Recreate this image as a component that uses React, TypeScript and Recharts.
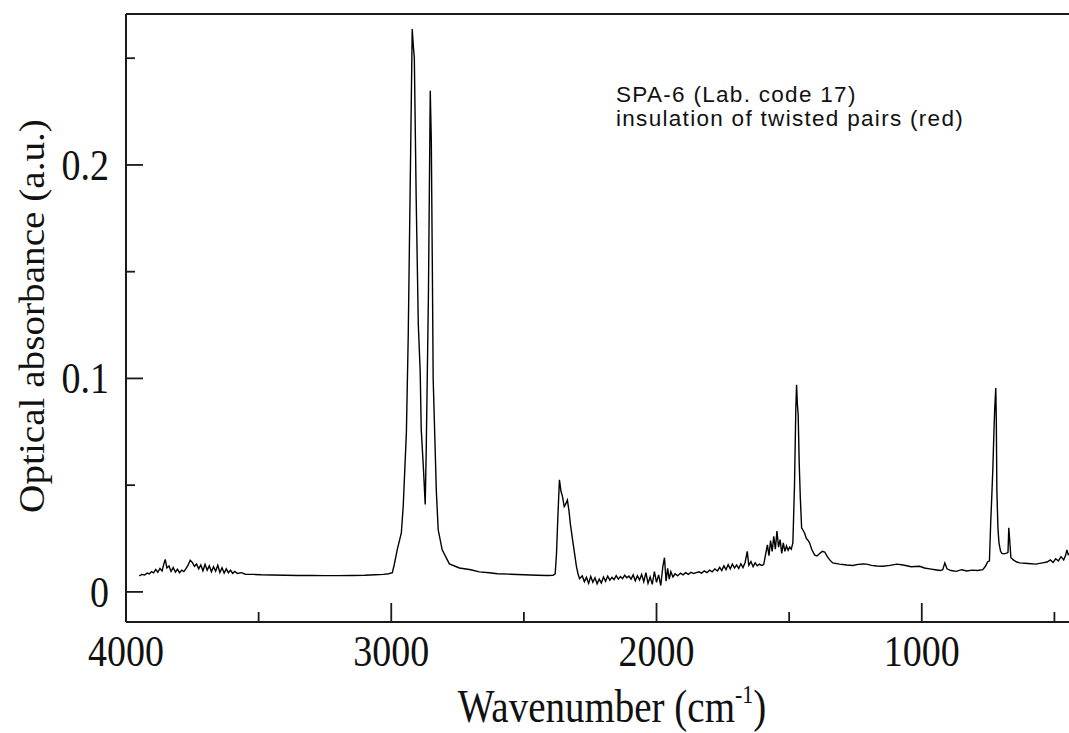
import { LineChart, Line, XAxis, YAxis } from "recharts";

// FTIR spectrum as [wavenumber cm-1, absorbance]
const highRegion: [number, number][] = [
  [3950, 0.0075], [3940, 0.0082], [3930, 0.0079], [3920, 0.0088], [3912, 0.0084],
  [3904, 0.0095], [3896, 0.0089], [3888, 0.0105], [3880, 0.0092], [3872, 0.011],
  [3864, 0.0098], [3858, 0.0128], [3852, 0.0152], [3846, 0.0112], [3838, 0.0121],
  [3830, 0.0096], [3822, 0.0114], [3814, 0.0093], [3806, 0.0106], [3798, 0.009],
  [3790, 0.0102], [3782, 0.0095], [3774, 0.0109], [3766, 0.0125], [3758, 0.0148],
  [3750, 0.0138], [3742, 0.012], [3734, 0.0131], [3726, 0.0108], [3718, 0.0126],
  [3710, 0.0099], [3702, 0.0129], [3694, 0.0102], [3686, 0.0122], [3678, 0.0094],
  [3670, 0.0118], [3662, 0.0097], [3654, 0.0125], [3646, 0.0091], [3638, 0.0113],
  [3630, 0.0088], [3622, 0.0108], [3614, 0.009], [3606, 0.0102], [3598, 0.0087],
  [3590, 0.0096], [3580, 0.0086], [3565, 0.009], [3550, 0.0083], [3520, 0.0082],
  [3490, 0.008], [3450, 0.0079], [3400, 0.0078], [3350, 0.0077], [3300, 0.0077],
  [3250, 0.0076], [3200, 0.0076], [3150, 0.0077], [3100, 0.0078], [3060, 0.008],
  [3030, 0.0082], [3010, 0.0085],
];

const chStretch: [number, number][] = [
  [2996, 0.009], [2989, 0.0126], [2977, 0.02], [2962, 0.0276], [2955, 0.04],
  [2943, 0.0745], [2936, 0.12], [2928, 0.196], [2921, 0.2637], [2917, 0.256],
  [2913, 0.25], [2906, 0.184], [2898, 0.125], [2891, 0.1035], [2887, 0.076],
  [2879, 0.0585], [2872, 0.041], [2868, 0.068], [2860, 0.138], [2853, 0.2347],
  [2849, 0.211], [2845, 0.15], [2842, 0.0998], [2830, 0.047], [2823, 0.029],
  [2808, 0.0197], [2781, 0.0131], [2743, 0.0112], [2700, 0.0104], [2668, 0.0094],
  [2630, 0.009], [2600, 0.0085], [2550, 0.0083], [2500, 0.008], [2450, 0.0078],
  [2410, 0.0077], [2390, 0.0078],
];

const co2Region: [number, number][] = [
  [2382, 0.0085], [2377, 0.018], [2372, 0.035], [2366, 0.0525], [2360, 0.047],
  [2355, 0.045], [2348, 0.04], [2343, 0.041], [2336, 0.043], [2330, 0.038],
  [2325, 0.032], [2316, 0.024], [2309, 0.018], [2302, 0.012], [2296, 0.0085],
  [2290, 0.0062], [2280, 0.0075], [2272, 0.0048], [2264, 0.0068], [2256, 0.004],
  [2248, 0.0072], [2240, 0.0045], [2232, 0.0066], [2224, 0.0038], [2216, 0.006],
  [2208, 0.0042], [2200, 0.007], [2192, 0.005], [2184, 0.0074], [2176, 0.0055],
  [2168, 0.0068], [2160, 0.0058], [2152, 0.0076], [2144, 0.006], [2136, 0.0072],
  [2128, 0.0062], [2120, 0.0078], [2112, 0.0066], [2104, 0.0074], [2096, 0.006],
  [2088, 0.008], [2080, 0.0052], [2072, 0.0076], [2064, 0.0056], [2056, 0.0082],
  [2048, 0.0048], [2040, 0.009], [2032, 0.004], [2024, 0.007], [2016, 0.0035],
  [2008, 0.0095], [2000, 0.0045], [1992, 0.008], [1984, 0.003], [1976, 0.012],
  [1970, 0.016], [1964, 0.005], [1958, 0.011], [1952, 0.006], [1946, 0.0095],
  [1938, 0.007], [1930, 0.0085], [1920, 0.0075], [1910, 0.0088], [1900, 0.008],
  [1890, 0.009], [1880, 0.0082], [1870, 0.0092], [1860, 0.0086], [1850, 0.009],
];

const fingerprint: [number, number][] = [
  [1840, 0.0094], [1830, 0.0088], [1820, 0.0098], [1810, 0.009], [1800, 0.0102],
  [1790, 0.0094], [1780, 0.0108], [1770, 0.0098], [1762, 0.0115], [1754, 0.01],
  [1746, 0.0122], [1738, 0.0104], [1730, 0.0128], [1722, 0.0108], [1714, 0.013],
  [1706, 0.0112], [1698, 0.0126], [1690, 0.011], [1682, 0.0132], [1674, 0.0114],
  [1666, 0.0138], [1658, 0.019], [1652, 0.0125], [1644, 0.0142], [1636, 0.0118],
  [1628, 0.0136], [1620, 0.0122], [1612, 0.013], [1604, 0.0124], [1596, 0.0128],
  [1588, 0.018], [1582, 0.022], [1576, 0.017], [1570, 0.024], [1564, 0.019],
  [1558, 0.026], [1552, 0.02], [1546, 0.0285], [1540, 0.021], [1534, 0.0245],
  [1528, 0.018], [1522, 0.023], [1516, 0.019], [1510, 0.0215], [1504, 0.0195],
  [1498, 0.021], [1492, 0.02], [1486, 0.023], [1480, 0.049], [1475, 0.085],
  [1472, 0.097], [1469, 0.088], [1466, 0.083], [1462, 0.06], [1458, 0.0445],
  [1453, 0.03], [1448, 0.029], [1442, 0.0276], [1435, 0.025], [1428, 0.024],
  [1423, 0.023], [1415, 0.02], [1404, 0.0173], [1395, 0.0168], [1385, 0.018],
  [1375, 0.019], [1366, 0.0187], [1356, 0.0165], [1347, 0.015], [1336, 0.0136],
  [1310, 0.013], [1283, 0.0126], [1260, 0.0124], [1240, 0.0129], [1220, 0.0131],
  [1208, 0.013], [1190, 0.0124], [1170, 0.0121], [1147, 0.012], [1120, 0.0124],
  [1094, 0.013], [1070, 0.0126], [1040, 0.0118], [1008, 0.012],
];

const lowRegion: [number, number][] = [
  [990, 0.0112], [970, 0.0108], [950, 0.0104], [930, 0.01], [921, 0.0104],
  [913, 0.0136], [905, 0.0108], [890, 0.01], [870, 0.0096], [850, 0.0104],
  [830, 0.0098], [810, 0.0102], [790, 0.01], [770, 0.0104], [760, 0.012],
  [752, 0.014], [745, 0.0145], [740, 0.033], [736, 0.045], [732, 0.058],
  [728, 0.075], [725, 0.086], [721, 0.0955], [719, 0.08], [717, 0.048],
  [713, 0.03], [709, 0.023], [703, 0.019], [698, 0.018], [690, 0.0178],
  [680, 0.0182], [675, 0.0185], [672, 0.03], [669, 0.025], [664, 0.016],
  [655, 0.015], [642, 0.014], [630, 0.0136], [600, 0.0133], [570, 0.013],
  [545, 0.0136], [528, 0.014], [515, 0.015], [505, 0.0138], [495, 0.0155],
  [485, 0.0145], [475, 0.0165], [465, 0.015], [458, 0.017], [453, 0.0197],
  [448, 0.0175], [445, 0.018],
];

const xTicks = [4000, 3500, 3000, 2500, 2000, 1500, 1000, 500];
const yTicks = [0, 0.05, 0.1, 0.15, 0.2, 0.25];
const noteLines = ["SPA-6 (Lab. code 17)", "insulation of twisted pairs (red)"];

const data = [...highRegion, ...chStretch, ...co2Region, ...fingerprint, ...lowRegion].map(
  ([w, a]) => ({ w, a })
);

const INK = "#1a1a1a";
const SERIF = "'Liberation Serif', 'Times New Roman', serif";

const BottomTick = (props: any) => {
  const { x, y, payload } = props;
  const major = payload.value % 1000 === 0;
  return (
    <g>
      <line x1={x} x2={x} y1={y} y2={y - (major ? 19 : 10)} stroke={INK} strokeWidth={1.8} />
      {major && (
        <g transform={`translate(${x} ${y + 44})`}>
          <text transform="scale(1,1.17)" textAnchor="middle" fontSize={38} fontFamily={SERIF} fill="#111">
            {payload.value}
          </text>
        </g>
      )}
    </g>
  );
};

const TopTick = (props: any) => {
  const { x, y, payload } = props;
  const major = payload.value % 1000 === 0;
  return <line x1={x} x2={x} y1={y} y2={y + (major ? 19 : 10)} stroke={INK} strokeWidth={1.8} />;
};

const LeftTick = (props: any) => {
  const { x, y, payload } = props;
  const v = payload.value;
  const major = Math.abs(v * 10 - Math.round(v * 10)) < 1e-6;
  return (
    <g>
      <line x1={x} x2={x + (major ? 17 : 9)} y1={y} y2={y} stroke={INK} strokeWidth={1.8} />
      {major && (
        <g transform={`translate(${x - 17} ${y + 15})`}>
          <text transform="scale(1,1.17)" textAnchor="end" fontSize={38} fontFamily={SERIF} fill="#111">
            {v === 0 ? "0" : v.toFixed(1)}
          </text>
        </g>
      )}
    </g>
  );
};

export default function App() {
  return (
    <div style={{ position: "absolute", left: 0, top: 0, background: "#fff" }}>
      <LineChart width={1069} height={733} data={data} margin={{ top: 0, right: 0, bottom: 0, left: 0 }}>
        <XAxis
          dataKey="w"
          type="number"
          domain={[445, 4000]}
          reversed
          allowDataOverflow
          ticks={xTicks}
          interval={0}
          height={111}
          tickSize={0}
          tickMargin={0}
          tickLine={false}
          tick={<BottomTick />}
          axisLine={{ stroke: INK, strokeWidth: 2 }}
        />
        <XAxis
          xAxisId="top"
          orientation="top"
          type="number"
          domain={[445, 4000]}
          reversed
          allowDataOverflow
          ticks={xTicks}
          interval={0}
          height={14}
          tickSize={0}
          tickMargin={0}
          tickLine={false}
          tick={<TopTick />}
          axisLine={{ stroke: INK, strokeWidth: 2 }}
        />
        <YAxis
          type="number"
          domain={[-0.0141, 0.2707]}
          allowDataOverflow
          ticks={yTicks}
          interval={0}
          width={126}
          tickSize={0}
          tickMargin={0}
          tickLine={false}
          tick={<LeftTick />}
          axisLine={{ stroke: INK, strokeWidth: 2 }}
        />
        <Line
          type="linear"
          dataKey="a"
          stroke="#000"
          strokeWidth={1.4}
          dot={false}
          isAnimationActive={false}
        />
        <g transform="translate(612 722)">
          <text transform="scale(1,1.17)" textAnchor="middle" fontSize={39} fontFamily={SERIF} fill="#111">
            Wavenumber (cm
            <tspan fontSize={22} dy={-16}>-1</tspan>
            <tspan dy={16}>)</tspan>
          </text>
        </g>
        <g transform="translate(32 316) rotate(-90)">
          <text
            transform="scale(1.12,1)"
            textAnchor="middle"
            dominantBaseline="central"
            fontSize={35}
            fontFamily={SERIF}
            fill="#111"
          >
            Optical absorbance (a.u.)
          </text>
        </g>
        {noteLines.map((t, i) => (
          <text
            key={t}
            x={616}
            y={102 + i * 24}
            fontSize={22.5}
            letterSpacing={1.3}
            fontFamily="'Liberation Sans', Arial, sans-serif"
            fill="#111"
          >
            {t}
          </text>
        ))}
      </LineChart>
    </div>
  );
}
